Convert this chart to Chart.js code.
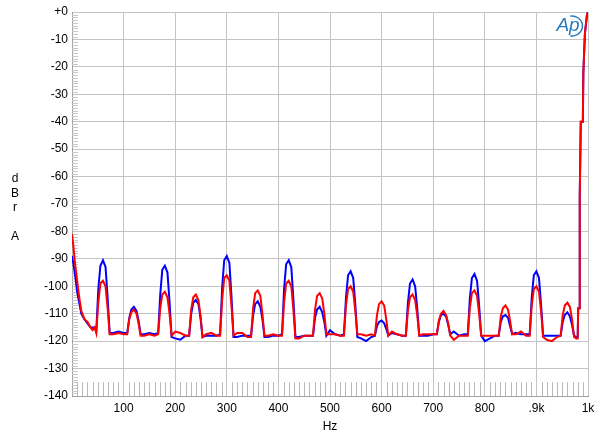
<!DOCTYPE html>
<html>
<head>
<meta charset="utf-8">
<script src="https://cdn.jsdelivr.net/npm/chart.js@4"></script>
<style>
  html, body { margin: 0; padding: 0; background: #fff; }
  canvas { display: block; }
</style>
</head>
<body>
<canvas id="myChart" width="600" height="444"></canvas>
<script>
// frequency points (Hz), shared by both channels
const hz = [
    0, 3, 6, 10, 14, 18, 24, 30, 36, 40, 44,
    47, 51, 55, 60, 65, 69, 73, 80, 90, 100,
    107, 111, 115, 120, 125, 129, 133, 140, 150, 160,
    167, 171, 175, 180, 185, 189, 193, 200, 210, 220,
    227, 231, 235, 240, 245, 249, 253, 260, 270, 280,
    287, 291, 295, 300, 305, 309, 313, 320, 330, 340,
    347, 351, 355, 360, 365, 369, 373, 380, 390, 400,
    407, 411, 415, 420, 425, 429, 433, 440, 450, 460,
    467, 471, 475, 480, 485, 489, 493, 500, 510, 520,
    527, 531, 535, 540, 545, 549, 553, 560, 570, 580,
    587, 591, 595, 600, 605, 609, 613, 620, 630, 640,
    647, 651, 655, 660, 665, 669, 673, 680, 690, 700,
    707, 711, 715, 720, 725, 729, 733, 740, 750, 760,
    767, 771, 775, 780, 785, 789, 793, 800, 810, 820,
    827, 831, 835, 840, 845, 849, 853, 860, 870, 880,
    887, 891, 895, 900, 905, 909, 913, 920, 930, 940,
    947, 951, 955, 960, 965, 969, 973, 977, 980,
    981, 983, 984, 986, 990, 991, 994, 998, 1000
];

// left channel (blue), dBr A
const blueDb = [
    -89, -92, -96, -102, -106, -110, -112, -113.5, -115, -115, -115,
    -116.5, -101, -92.5, -90.5, -93, -104, -117, -117, -116.5, -117,
    -117, -111.5, -108.5, -107.5, -109, -112.5, -117.5, -117.5, -117, -117.5,
    -117, -103, -94, -92.5, -95, -105.5, -118.5, -119, -119.5, -118,
    -118, -110, -106, -105, -106.5, -111.5, -118.5, -118, -118, -118,
    -117.5, -100.5, -90.5, -89, -91.5, -103.5, -118.5, -118.5, -118, -118,
    -118, -110.5, -106.5, -105.5, -107.5, -112, -118.5, -118.5, -118, -118,
    -117.5, -101, -92, -90.5, -93, -104.5, -118.5, -118.5, -118, -118,
    -118, -111.5, -108.5, -107.5, -109.5, -113, -118, -116, -117.5, -118,
    -117.5, -104, -96, -94.5, -97, -106.5, -118.5, -119, -120, -118.5,
    -118, -114.5, -113, -112.5, -113.5, -115.5, -118, -117, -117.5, -118,
    -118, -106, -99, -97.5, -100, -108, -118, -118, -118, -117.5,
    -117.5, -113, -110.5, -110, -111, -114, -117.5, -116.5, -118, -117.5,
    -117.5, -104.5, -97, -95.5, -98, -107, -118, -120, -119, -118,
    -118, -113, -111, -110.5, -111.5, -114.5, -117.5, -117, -117.5, -117.5,
    -117.5, -104, -96, -94.5, -97, -106.5, -118, -118, -118, -118,
    -118, -113, -110.5, -109.5, -111, -114, -118, -118.5, -118.5,
    -108, -108, -67, -40, -40, -22, -8, -1, 0
];

// right channel (red), dBr A
const redDb = [
    -81, -86, -92, -98, -104, -109, -112, -113, -115, -116, -115,
    -117, -106, -99, -98, -100, -108, -117.5, -117.5, -117, -117.5,
    -117.5, -112, -109.5, -108.5, -110, -113.5, -118, -118, -117.5, -118,
    -117.5, -108, -103, -102, -104, -110, -118, -116.5, -117, -118,
    -118, -108.5, -104, -103, -105, -110.5, -118.5, -117.5, -117, -118,
    -118, -105, -97, -96, -98, -107, -118, -117, -117, -118.5,
    -118.5, -108, -102.5, -101.5, -103.5, -110, -118, -118, -117.5, -118,
    -118, -106, -99, -98, -100, -108.5, -119, -119, -118, -118,
    -118, -108.5, -103.5, -102.5, -104.5, -110, -117.5, -117.5, -117.5, -118,
    -118, -107, -101, -100, -102, -109, -117.5, -117.5, -118, -117.5,
    -118, -110.5, -106.5, -105.5, -107, -112, -118, -116.5, -117.5, -118,
    -118, -109, -104, -103, -105, -110.5, -118, -117.5, -117.5, -117.5,
    -117.5, -112.5, -110, -109, -110.5, -113.5, -118, -119.5, -118, -118,
    -118, -108, -102.5, -101.5, -103.5, -110, -118, -118, -118, -118,
    -118, -111, -108, -107, -108.5, -112.5, -117.5, -117.5, -116.5, -118,
    -118, -107, -101, -100, -102, -109, -118.5, -119.5, -120, -118.5,
    -118, -110.5, -107, -106, -107.5, -112, -118.5, -119, -119,
    -108, -108, -67, -40, -40, -22, -8, -1, 0
];

const xTicks = [100, 200, 300, 400, 500, 600, 700, 800, 900, 1000];
const xTickText = ['100', '200', '300', '400', '500', '600', '700', '800', '.9k', '1k'];
const yLabel = ['d', 'B', 'r', '', 'A'];

const FONT = "'Liberation Sans', Arial, sans-serif";

// minor ticks, axis label letters and the Ap logo
const extras = {
    id: 'extras',
    beforeDatasetsDraw(chart) {
        const ctx = chart.ctx;
        const x = chart.scales.x, y = chart.scales.y;
        const area = chart.chartArea;
        ctx.save();
        ctx.lineWidth = 1;
        ctx.strokeStyle = '#c8c8c8';
        for (let v = -139; v < 0; v++) {
            if (v % 10 === 0) continue;
            const py = Math.round(y.getPixelForValue(v)) + 0.5;
            ctx.beginPath();
            ctx.moveTo(area.left, py);
            ctx.lineTo(area.left + 6, py);
            ctx.stroke();
        }
        ctx.strokeStyle = '#b8b8b8';
        const top = y.getPixelForValue(-135);
        for (let f = 10; f < 1000; f += 10) {
            if (f % 100 === 0) continue;
            const px = Math.round(x.getPixelForValue(f)) + 0.5;
            ctx.beginPath();
            ctx.moveTo(px, top);
            ctx.lineTo(px, area.bottom);
            ctx.stroke();
        }
        ctx.restore();
    },
    afterDraw(chart) {
        const ctx = chart.ctx;
        ctx.save();
        ctx.fillStyle = '#000';
        ctx.font = '12px ' + FONT;
        ctx.textAlign = 'center';
        ctx.textBaseline = 'middle';
        yLabel.forEach((t, i) => ctx.fillText(t, 15, 179 + i * 14.3));

        // Ap logo
        ctx.fillStyle = '#2a7cbc';
        ctx.font = 'italic 19px ' + FONT;
        ctx.textAlign = 'center';
        ctx.fillText('Ap', 568, 26);
        ctx.strokeStyle = '#2a7cbc';
        ctx.lineWidth = 1.4;
        ctx.beginPath();
        ctx.ellipse(572, 26, 10.5, 10, 0, -1.75, 1.75);
        ctx.stroke();
        ctx.restore();
    }
};

const data = {
    datasets: [
        {
            label: 'Right',
            data: hz.map((f, i) => ({ x: f, y: redDb[i] })),
            borderColor: '#ff0000',
            borderWidth: 2,
            pointRadius: 0,
            tension: 0,
            order: 0
        },
        {
            label: 'Left',
            data: hz.map((f, i) => ({ x: f, y: blueDb[i] })),
            borderColor: '#0000ff',
            borderWidth: 2,
            pointRadius: 0,
            tension: 0,
            order: 1
        }
    ]
};

const config = {
    type: 'line',
    data: data,
    options: {
        responsive: false,
        animation: false,
        devicePixelRatio: 1,
        layout: { padding: { top: 12, right: 12, left: 0, bottom: 0 } },
        plugins: {
            legend: { display: false },
            tooltip: { enabled: false }
        },
        scales: {
            x: {
                type: 'linear',
                min: 0,
                max: 1000,
                afterFit: s => { s.height = 48; },
                afterBuildTicks: s => { s.ticks = [0].concat(xTicks).map(v => ({ value: v })); },
                ticks: {
                    autoSkip: false,
                    maxRotation: 0,
                    padding: 5,
                    color: '#000',
                    font: { family: FONT, size: 12 },
                    callback: v => {
                        const i = xTicks.indexOf(v);
                        return i < 0 ? '' : xTickText[i];
                    }
                },
                grid: { color: '#c4c4c4', drawTicks: false },
                border: { color: '#a0a0a0' },
                title: {
                    display: true,
                    text: 'Hz',
                    color: '#000',
                    font: { family: FONT, size: 12 },
                    padding: { top: 0, bottom: 10 }
                }
            },
            y: {
                min: -140,
                max: 0,
                afterFit: s => { s.width = 72; },
                ticks: {
                    stepSize: 10,
                    padding: 4,
                    color: '#000',
                    font: { family: FONT, size: 12 },
                    callback: v => v === 0 ? '+0' : String(v)
                },
                grid: { color: '#c4c4c4', drawTicks: false },
                border: { color: '#a0a0a0' }
            }
        }
    },
    plugins: [extras]
};

var myChart = new Chart(document.getElementById('myChart'), config);
</script>
</body>
</html>
